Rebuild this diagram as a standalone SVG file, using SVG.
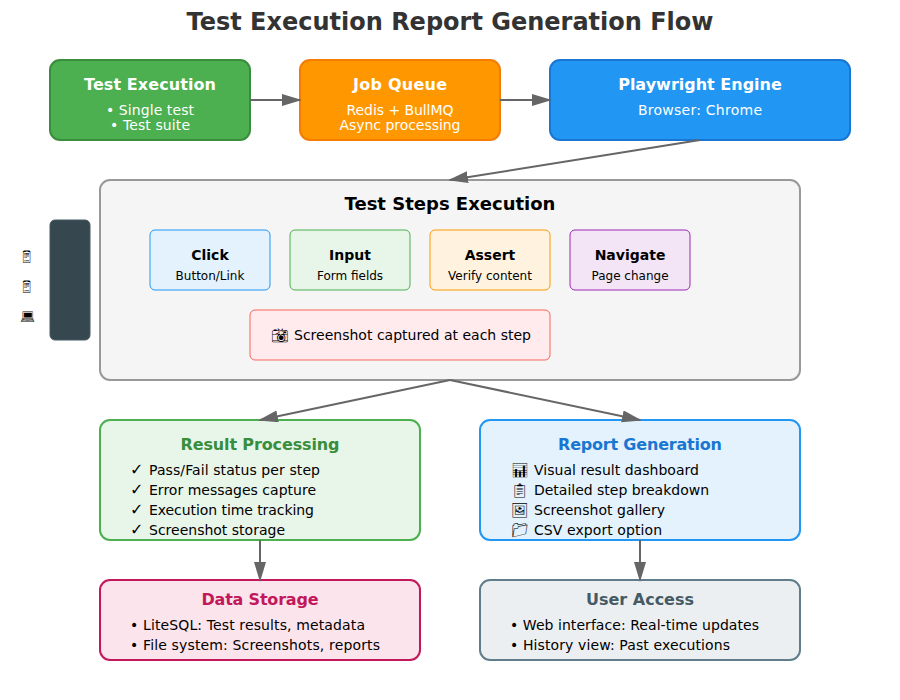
<svg xmlns="http://www.w3.org/2000/svg" width="900" height="700" viewBox="0 0 900 700">
<defs>
<marker id="arrow" markerWidth="10" markerHeight="10" refX="9" refY="3" orient="auto" markerUnits="strokeWidth"><polygon points="0 0, 10 3, 0 6" fill="#666"/></marker>
</defs>
<style>
text{font-family:"DejaVu Sans",sans-serif;font-variant-emoji:text}
.c{text-anchor:middle}
.w{fill:#fff}
.h{font-size:16px;font-weight:bold}
.s{font-size:14px}
.t{font-size:14px;font-weight:bold;fill:#000}
.x{font-size:12px;fill:#000}
.l{font-size:14px;fill:#000}
.k{font-size:16px;fill:#000}
.conn{stroke:#666;stroke-width:2;fill:none;marker-end:url(#arrow)}
rect{stroke-width:2}
.thin{stroke-width:1}
</style>
<rect width="900" height="700" fill="#fff" stroke="none"/>
<text class="c" x="450" y="30" font-size="24" font-weight="bold" fill="#333">Test Execution Report Generation Flow</text>
<g id="test-execution"><rect x="50" y="60" width="200" height="80" rx="10" fill="#4caf50" stroke="#388e3c"/><text class="c w h" x="150" y="90" textLength="132">Test Execution</text><text class="c w s" x="150" y="115" textLength="88">• Single test</text><text class="c w s" x="150" y="130" textLength="80">• Test suite</text></g>
<g id="job-queue"><rect x="300" y="60" width="200" height="80" rx="10" fill="#ff9800" stroke="#f57c00"/><text class="c w h" x="400" y="90" textLength="94">Job Queue</text><text class="c w s" x="400" y="115" textLength="107">Redis + BullMQ</text><text class="c w s" x="400" y="130" textLength="121">Async processing</text></g>
<g id="playwright-engine"><rect x="550" y="60" width="300" height="80" rx="10" fill="#2196f3" stroke="#1976d2"/><text class="c w h" x="700" y="90">Playwright Engine</text><text class="c w s" x="700" y="115" textLength="124">Browser: Chrome</text></g>
<g id="test-steps"><rect x="100" y="180" width="700" height="200" rx="10" fill="#f5f5f5" stroke="#999"/><text class="c" x="450" y="210" font-size="18" font-weight="bold" fill="#000">Test Steps Execution</text></g>
<g id="click"><rect class="thin" x="150" y="230" width="120" height="60" rx="5" fill="#e3f2fd" stroke="#2196f3"/><text class="c t" x="210" y="260">Click</text><text class="c x" x="210" y="280">Button/Link</text></g>
<g id="input"><rect class="thin" x="290" y="230" width="120" height="60" rx="5" fill="#e8f5e9" stroke="#4caf50"/><text class="c t" x="350" y="260">Input</text><text class="c x" x="350" y="280">Form fields</text></g>
<g id="assert"><rect class="thin" x="430" y="230" width="120" height="60" rx="5" fill="#fff3e0" stroke="#ff9800"/><text class="c t" x="490" y="260">Assert</text><text class="c x" x="490" y="280">Verify content</text></g>
<g id="navigate"><rect class="thin" x="570" y="230" width="120" height="60" rx="5" fill="#f3e5f5" stroke="#9c27b0"/><text class="c t" x="630" y="260">Navigate</text><text class="c x" x="630" y="280">Page change</text></g>
<g id="screenshot"><rect class="thin" x="250" y="310" width="300" height="50" rx="5" fill="#ffebee" stroke="#f44336" stroke-opacity="0.8"/><text class="l" x="271" y="340">📸︎</text><text class="l" x="294" y="340" textLength="237">Screenshot captured at each step</text></g>
<g id="device-panel"><rect class="thin" x="50" y="220" width="40" height="120" rx="5" fill="#37474f" stroke="#455a64"/><text class="c" x="26" y="261" font-size="12" fill="#000">📱︎</text><text class="c" x="26" y="291" font-size="12" fill="#000">📱︎</text><text class="c" x="27" y="321" font-size="12" fill="#000">💻︎</text></g>
<g id="result-processing"><rect x="100" y="420" width="320" height="120" rx="10" fill="#e8f5e9" stroke="#4caf50"/><text class="c h" x="260" y="450" fill="#388e3c" textLength="159">Result Processing</text>
<text class="k" x="130" y="475">✓</text><text class="l" x="149" y="475" textLength="171">Pass/Fail status per step</text>
<text class="k" x="130" y="495">✓</text><text class="l" x="149" y="495" textLength="167">Error messages capture</text>
<text class="k" x="130" y="515">✓</text><text class="l" x="149" y="515" textLength="165">Execution time tracking</text>
<text class="k" x="130" y="535">✓</text><text class="l" x="149" y="535" textLength="136">Screenshot storage</text></g>
<g id="report-generation"><rect x="480" y="420" width="320" height="120" rx="10" fill="#e3f2fd" stroke="#2196f3"/><text class="c h" x="640" y="450" fill="#1976d2" textLength="164">Report Generation</text>
<text class="l" x="511" y="475">📊︎</text><text class="l" x="534" y="475" textLength="165">Visual result dashboard</text>
<text class="l" x="511" y="495">📋︎</text><text class="l" x="534" y="495" textLength="175">Detailed step breakdown</text>
<text class="l" x="511" y="515">🖼︎</text><text class="l" x="534" y="515" textLength="131">Screenshot gallery</text>
<text class="l" x="511" y="535">📁︎</text><text class="l" x="534" y="535" textLength="128">CSV export option</text></g>
<g id="data-storage"><rect x="100" y="580" width="320" height="80" rx="10" fill="#fce4ec" stroke="#c2185b"/><text class="c h" x="260" y="605" fill="#c2185b" textLength="117">Data Storage</text><text class="l" x="130" y="630" textLength="235">• LiteSQL: Test results, metadata</text><text class="l" x="130" y="650" textLength="250">• File system: Screenshots, reports</text></g>
<g id="user-access"><rect x="480" y="580" width="320" height="80" rx="10" fill="#eceff1" stroke="#607d8b"/><text class="c h" x="640" y="605" fill="#455a64" textLength="108">User Access</text><text class="l" x="510" y="630" textLength="249">• Web interface: Real-time updates</text><text class="l" x="510" y="650" textLength="220">• History view: Past executions</text></g>
<g id="connectors">
<line class="conn" x1="250" y1="100" x2="300" y2="100"/>
<line class="conn" x1="500" y1="100" x2="550" y2="100"/>
<line class="conn" x1="700" y1="140" x2="450" y2="180"/>
<line class="conn" x1="450" y1="380" x2="260" y2="420"/>
<line class="conn" x1="450" y1="380" x2="640" y2="420"/>
<line class="conn" x1="260" y1="540" x2="260" y2="580"/>
<line class="conn" x1="640" y1="540" x2="640" y2="580"/>
</g>
</svg>
